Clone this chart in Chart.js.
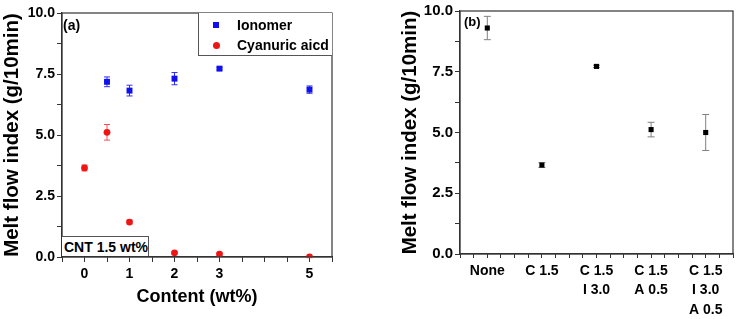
<!DOCTYPE html>
<html>
<head>
<meta charset="utf-8">
<script src="https://cdn.jsdelivr.net/npm/chart.js@4/dist/chart.umd.min.js"></script>
<style>
  body { margin: 0; background: #fff; }
  #wrap { position: relative; width: 740px; height: 319px; font-family: "Liberation Sans", Arial, sans-serif; font-weight: bold; }
  canvas { position: absolute; top: 0; }
  #cA { left: 0; }
  #cB { left: 370px; }
  .lbl { position: absolute; color: #000; white-space: nowrap; }
  #legend { position: absolute; left: 198px; top: 13px; width: 133px; height: 42px; border: 1px solid #555; border-right: none; border-top: none; background: #fff; }
  .row { position: absolute; left: 38px; font-size: 14px; line-height: 16px; }
  .mk { position: absolute; left: 14px; }
  #cnt { position: absolute; left: 62px; top: 236px; width: 87px; height: 20px; border: 1px solid #555; border-left: none; border-bottom: none; background: #fff; font-size: 14px; line-height: 21px; padding-left: 2px; box-sizing: border-box; }
</style>
</head>
<body>
<div id="wrap">
  <canvas id="cA" width="370" height="319"></canvas>
  <canvas id="cB" width="370" height="319"></canvas>
  <div class="lbl" style="left:63px;top:17px;font-size:14px;">(a)</div>
  <div class="lbl" style="left:464px;top:14px;font-size:13px;">(b)</div>
  <div id="legend">
    <div class="mk" style="top:9px;width:6px;height:6px;background:#1010ee;"></div>
    <div class="row" style="top:4px;">Ionomer</div>
    <div class="mk" style="top:29px;width:7px;height:7px;border-radius:50%;background:#ee1515;"></div>
    <div class="row" style="top:24px;">Cyanuric aicd</div>
  </div>
  <div id="cnt">CNT 1.5 wt%</div>
</div>
<script>
// panel (a): content in wt%
const ionomerX = [0.5, 1, 2, 3, 5];
const ionomerY = [7.18, 6.82, 7.31, 7.72, 6.86];
const ionomerErr = [0.2, 0.22, 0.25, 0.05, 0.15];

const cyanuricX = [0, 0.5, 1, 2, 3, 5];
const cyanuricY = [3.65, 5.11, 1.43, 0.17, 0.12, 0.0];
const cyanuricErr = [0.12, 0.32, 0.08, 0.05, 0.05, 0.03];

const contentTicks = [0, 1, 2, 3, 5];

// panel (b): samples
const samples = [["None"], ["C 1.5"], ["C 1.5", "I 3.0"], ["C 1.5", "A 0.5"], ["C 1.5", "I 3.0", "A 0.5"]];
const sampleY = [9.3, 3.66, 7.72, 5.12, 5.0];
const sampleErr = [0.48, 0.1, 0.05, 0.3, 0.74];

const mfiTicks = [0, 2.5, 5, 7.5, 10];

Chart.defaults.font.family = '"Liberation Sans", Arial, sans-serif';
Chart.defaults.font.weight = 'bold';
Chart.defaults.color = '#000';

const toPoints = (xs, ys) => xs.map((x, i) => ({ x: x, y: ys[i] }));

// error bars + frame, drawn through the chart scales
const errorBars = {
    id: 'errorBars',
    beforeDatasetsDraw(chart) {
        const ctx = chart.ctx;
        const yScale = chart.scales.y;
        chart.data.datasets.forEach((ds, di) => {
            if (!ds.errors) return;
            const meta = chart.getDatasetMeta(di);
            ctx.save();
            ctx.strokeStyle = ds.errorColor;
            ctx.lineWidth = 1;
            meta.data.forEach((pt, i) => {
                const v = ds.data[i].y;
                const e = ds.errors[i];
                const top = yScale.getPixelForValue(v + e);
                const bot = yScale.getPixelForValue(v - e);
                const w = ds.capWidth;
                ctx.beginPath();
                ctx.moveTo(pt.x, top); ctx.lineTo(pt.x, bot);
                ctx.moveTo(pt.x - w, top); ctx.lineTo(pt.x + w, top);
                ctx.moveTo(pt.x - w, bot); ctx.lineTo(pt.x + w, bot);
                ctx.stroke();
            });
            ctx.restore();
        });
    },
    afterDraw(chart) {
        const a = chart.chartArea;
        const ctx = chart.ctx;
        ctx.save();
        ctx.strokeStyle = '#333';
        ctx.lineWidth = 1.2;
        ctx.strokeRect(a.left, a.top, a.right - a.left, a.bottom - a.top);
        ctx.restore();
    }
};

function yAxis(width, fontSize, titlePad) {
    return {
        min: 0, max: 10,
        afterFit(s) { s.width = width; },
        afterBuildTicks(s) {
            s.ticks = [];
            for (let i = 0; i <= 8; i++) s.ticks.push({ value: i * 1.25 });
        },
        ticks: {
            font: { size: fontSize },
            padding: 2,
            callback: v => mfiTicks.includes(v) ? v.toFixed(1) : ''
        },
        grid: { drawOnChartArea: false, tickLength: 5, tickColor: '#333' },
        border: { color: '#333', width: 1.2 },
        title: {
            display: true,
            text: 'Melt flow index (g/10min)',
            font: { size: 20.5 },
            padding: { top: titlePad, bottom: 0 }
        }
    };
}

new Chart(document.getElementById('cA'), {
    type: 'scatter',
    data: {
        datasets: [
            {
                label: 'Ionomer',
                data: toPoints(ionomerX, ionomerY),
                errors: ionomerErr,
                errorColor: '#3030ee',
                capWidth: 3,
                pointStyle: 'rect',
                pointRadius: 4.2,
                backgroundColor: '#1010ee',
                borderWidth: 0
            },
            {
                label: 'Cyanuric aicd',
                data: toPoints(cyanuricX, cyanuricY),
                errors: cyanuricErr,
                errorColor: '#f05050',
                capWidth: 3,
                pointStyle: 'circle',
                pointRadius: 3.4,
                backgroundColor: '#ee1515',
                borderWidth: 0
            }
        ]
    },
    options: {
        responsive: false,
        animation: false,
        layout: { padding: { top: 13, right: 38, left: 0, bottom: 0 } },
        plugins: { legend: { display: false }, tooltip: { enabled: false } },
        scales: {
            x: {
                type: 'linear',
                min: -0.5, max: 5.5,
                afterFit(s) { s.height = 62; },
                ticks: {
                    stepSize: 0.5,
                    autoSkip: false,
                    maxRotation: 0,
                    font: { size: 14 },
                    padding: 4,
                    callback: v => contentTicks.includes(v) ? String(v) : ''
                },
                grid: { drawOnChartArea: false, tickLength: 5, tickColor: '#333' },
                border: { color: '#333', width: 1.2 },
                title: {
                    display: true,
                    text: 'Content (wt%)',
                    font: { size: 18 },
                    padding: { top: 0, bottom: 11 }
                }
            },
            y: yAxis(62, 14, 0)
        }
    },
    plugins: [errorBars]
});

new Chart(document.getElementById('cB'), {
    type: 'scatter',
    data: {
        datasets: [
            {
                label: 'MFI',
                data: toPoints(samples.map((s, i) => i), sampleY),
                errors: sampleErr,
                errorColor: '#808080',
                capWidth: 3.5,
                pointStyle: 'rect',
                pointRadius: 3.6,
                backgroundColor: '#000',
                borderWidth: 0
            }
        ]
    },
    options: {
        responsive: false,
        animation: false,
        layout: { padding: { top: 9, right: 7, left: 0, bottom: 0 } },
        plugins: { legend: { display: false }, tooltip: { enabled: false } },
        scales: {
            x: {
                type: 'linear',
                min: -0.5, max: 4.5,
                afterFit(s) { s.height = 65; },
                ticks: {
                    stepSize: 0.25,
                    autoSkip: false,
                    maxRotation: 0,
                    font: { size: 14, lineHeight: 1.4 },
                    padding: 3,
                    callback: v => Number.isInteger(v) && samples[v] ? samples[v] : ''
                },
                grid: { drawOnChartArea: false, tickLength: 4, tickColor: '#333' },
                border: { color: '#333', width: 1.2 }
            },
            y: yAxis(90, 15, 28)
        }
    },
    plugins: [errorBars]
});
</script>
</body>
</html>
